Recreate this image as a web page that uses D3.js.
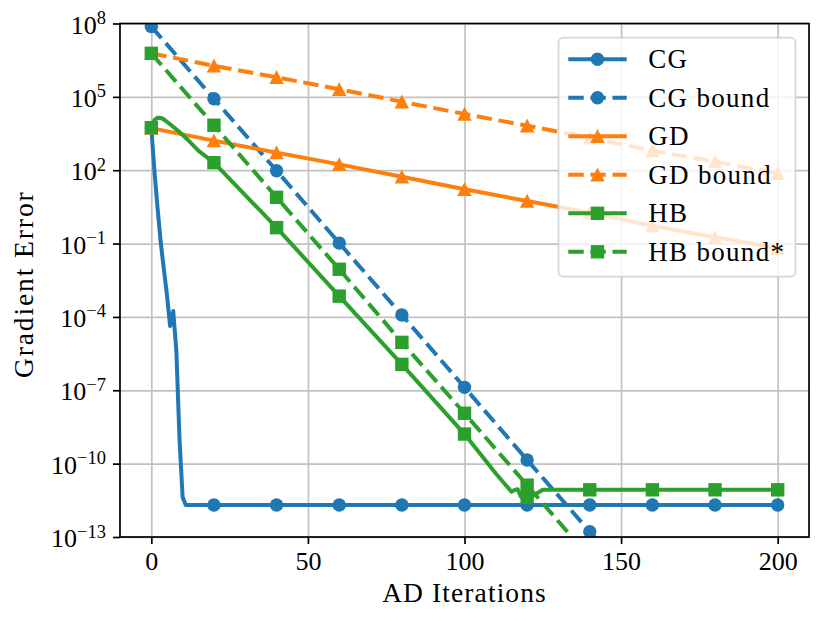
<!DOCTYPE html>
<html>
<head>
<meta charset="utf-8">
<script src="https://cdn.jsdelivr.net/npm/d3@7"></script>
<style>
  body { margin: 0; background: #fff; }
  svg { display: block; font-family: "Liberation Serif", "DejaVu Serif", serif; }
</style>
</head>
<body>
<svg id="chart" width="830" height="621"></svg>
<script>
// Values, stored as log10 of the gradient error.

// Iterations where the bound / GD series are sampled (markers every 20)
const markIters = [0, 20, 40, 60, 80, 100, 120, 140, 160, 180, 200];

// CG (solid) - drops fast then flattens at the round-off floor
const cgIters = [0, 1, 2, 3, 4, 5, 6, 7, 8, 9, 10, 11, 20, 40, 60, 80, 100, 120, 140, 160, 180, 200];
const cgLog = [3.73, 1.95, 0.45, -0.95, -2.05, -3.1, -4.37, -3.76, -5.4, -9.0, -11.37, -11.69,
  -11.69, -11.69, -11.69, -11.69, -11.69, -11.69, -11.69, -11.69, -11.69, -11.69];

// CG bound (dashed)
const cgBoundLog = [7.88, 4.92, 1.98, -0.98, -3.92, -6.88, -9.85, -12.78, -15.72, -18.66, -21.6];

// GD (solid) and GD bound (dashed)
const gdLog = [3.72, 3.21, 2.72, 2.24, 1.73, 1.22, 0.74, 0.26, -0.27, -0.74, -1.19];
const gdBoundLog = [6.78, 6.27, 5.8, 5.31, 4.8, 4.3, 3.82, 3.33, 2.8, 2.35, 1.87];

// HB (solid) - small bump at the start, small wiggle near the floor
const hbIters = [0, 1, 2, 3, 4, 5, 6, 9, 12, 15, 20, 40, 60, 80, 100, 110, 115, 116, 117, 118,
  120, 122, 125, 140, 160, 180, 200];
const hbLog = [3.74, 4.05, 4.15, 4.14, 4.08, 3.98, 3.88, 3.56, 3.2, 2.8, 2.31, -0.35, -3.15,
  -5.94, -8.79, -10.4, -11.15, -11.08, -11.05, -11.35, -11.38, -11.3, -11.07,
  -11.07, -11.07, -11.07, -11.07];

// HB bound* (dashed)
const hbBoundLog = [6.78, 3.84, 0.89, -2.05, -5.04, -7.94, -10.88, -13.85, -16.8, -19.75, -22.7];

// Axis ticks
const xTicks = [0, 50, 100, 150, 200];
const yTickExps = [8, 5, 2, -1, -4, -7, -10, -13];

const series = [
  { name: 'CG', iters: cgIters, logs: cgLog, color: '#1f77b4', dashed: false, marker: 'circle' },
  { name: 'CG bound', iters: markIters, logs: cgBoundLog, color: '#1f77b4', dashed: true, marker: 'circle' },
  { name: 'GD', iters: markIters, logs: gdLog, color: '#ff7f0e', dashed: false, marker: 'triangle' },
  { name: 'GD bound', iters: markIters, logs: gdBoundLog, color: '#ff7f0e', dashed: true, marker: 'triangle' },
  { name: 'HB', iters: hbIters, logs: hbLog, color: '#2ca02c', dashed: false, marker: 'square' },
  { name: 'HB bound*', iters: markIters, logs: hbBoundLog, color: '#2ca02c', dashed: true, marker: 'square' }
];

const margin = { left: 120, top: 23.5, right: 21, bottom: 84 };
const W = 830, H = 621;
const plotW = W - margin.left - margin.right;
const plotH = H - margin.top - margin.bottom;

const svg = d3.select('#chart');
const g = svg.append('g').attr('transform', `translate(${margin.left},${margin.top})`);

const x = d3.scaleLinear().domain([-10, 210]).range([0, plotW]);
const y = d3.scaleLog().domain([1e-13, 1e8]).range([plotH, 0]);

svg.append('defs').append('clipPath').attr('id', 'plot-clip')
  .append('rect').attr('width', plotW).attr('height', plotH);

// Grid
const gridColor = '#c2c2c2';
g.append('g')
  .attr('transform', `translate(0,${plotH})`)
  .call(d3.axisBottom(x).tickValues(xTicks).tickSize(-plotH).tickFormat(''))
  .call(s => s.select('.domain').remove())
  .selectAll('line').attr('stroke', gridColor).attr('stroke-width', 1.7);
g.append('g')
  .call(d3.axisLeft(y).tickValues(yTickExps.map(e => Math.pow(10, e))).tickSize(-plotW).tickFormat(''))
  .call(s => s.select('.domain').remove())
  .selectAll('line').attr('stroke', gridColor).attr('stroke-width', 1.7);

// Marker drawing helper
const mk = 6.7;
function drawMarker(sel, shape, cx, cy, color) {
  if (shape === 'circle') {
    sel.append('circle').attr('cx', cx).attr('cy', cy).attr('r', mk).attr('fill', color);
  } else if (shape === 'square') {
    sel.append('rect').attr('x', cx - mk).attr('y', cy - mk)
      .attr('width', 2 * mk).attr('height', 2 * mk).attr('fill', color);
  } else {
    sel.append('path')
      .attr('d', `M${cx},${cy - mk - 0.5}L${cx + mk + 0.5},${cy + mk}L${cx - mk - 0.5},${cy + mk}Z`)
      .attr('fill', color);
  }
}

const dashPattern = '15.4,6.7';
const line = d3.line().x(d => x(d.it)).y(d => y(Math.pow(10, d.lg)));

const plot = g.append('g').attr('clip-path', 'url(#plot-clip)');

series.forEach(s => {
  const pts = s.iters.map((it, i) => ({ it: it, lg: s.logs[i] }));
  const sg = plot.append('g');
  sg.append('path')
    .datum(pts)
    .attr('d', line)
    .attr('fill', 'none')
    .attr('stroke', s.color)
    .attr('stroke-width', 4)
    .attr('stroke-dasharray', s.dashed ? dashPattern : null)
    .attr('stroke-linejoin', 'round');
  pts.filter(p => p.it % 20 === 0).forEach(p => {
    drawMarker(sg, s.marker, x(p.it), y(Math.pow(10, p.lg)), s.color);
  });
});

// Spines
g.append('rect')
  .attr('width', plotW).attr('height', plotH)
  .attr('fill', 'none').attr('stroke', '#000').attr('stroke-width', 1.7);

// X axis
const xAxis = g.append('g')
  .attr('transform', `translate(0,${plotH})`)
  .call(d3.axisBottom(x).tickValues(xTicks).tickSize(7).tickSizeOuter(0).tickPadding(8));
xAxis.select('.domain').remove();
xAxis.selectAll('line').attr('stroke', '#000').attr('stroke-width', 1.7);
xAxis.selectAll('text').attr('font-size', 26).attr('fill', '#000')
  .attr('font-family', '"Liberation Serif", serif').attr('dy', '0.71em');

// Y axis with 10^n labels
const yAxis = g.append('g')
  .call(d3.axisLeft(y).tickValues(yTickExps.map(e => Math.pow(10, e)))
    .tickSize(7).tickSizeOuter(0).tickPadding(7).tickFormat(''));
yAxis.select('.domain').remove();
yAxis.selectAll('line').attr('stroke', '#000').attr('stroke-width', 1.7);
yAxis.selectAll('text')
  .attr('font-size', 26).attr('fill', '#000').attr('dy', 9.5)
  .attr('font-family', '"Liberation Serif", serif')
  .each(function(d) {
    const t = d3.select(this);
    const e = Math.round(Math.log10(d));
    t.append('tspan').text('10');
    t.append('tspan').attr('dy', -9.5).attr('font-size', 18.5)
      .text(e < 0 ? '\u2212' + (-e) : String(e));
  });

// Axis labels
svg.append('text')
  .attr('x', margin.left + plotW / 2).attr('y', 602)
  .attr('text-anchor', 'middle').attr('font-size', 27.5)
  .attr('letter-spacing', 1.1)
  .text('AD Iterations');
svg.append('text')
  .attr('transform', `translate(33,${margin.top + plotH / 2 + 4}) rotate(-90)`)
  .attr('text-anchor', 'middle').attr('font-size', 27.5)
  .attr('letter-spacing', 1.9)
  .text('Gradient Error');

// Legend
const lg = svg.append('g');
lg.append('rect')
  .attr('x', 558.5).attr('y', 37.7).attr('width', 237).attr('height', 239).attr('rx', 5)
  .attr('fill', '#fff').attr('fill-opacity', 0.8)
  .attr('stroke', '#cccccc').attr('stroke-opacity', 0.8).attr('stroke-width', 1.8);

series.forEach((s, i) => {
  const cy = 59.3 + i * 38.5;
  lg.append('line')
    .attr('x1', 568.3).attr('x2', 626.7).attr('y1', cy).attr('y2', cy)
    .attr('stroke', s.color).attr('stroke-width', 4)
    .attr('stroke-dasharray', s.dashed ? dashPattern : null);
  drawMarker(lg, s.marker, 597.5, cy, s.color);
  lg.append('text')
    .attr('x', 648.3).attr('y', cy + 9)
    .attr('font-size', 27)
    .attr('letter-spacing', 1.3)
    .text(s.name);
});
</script>
</body>
</html>
